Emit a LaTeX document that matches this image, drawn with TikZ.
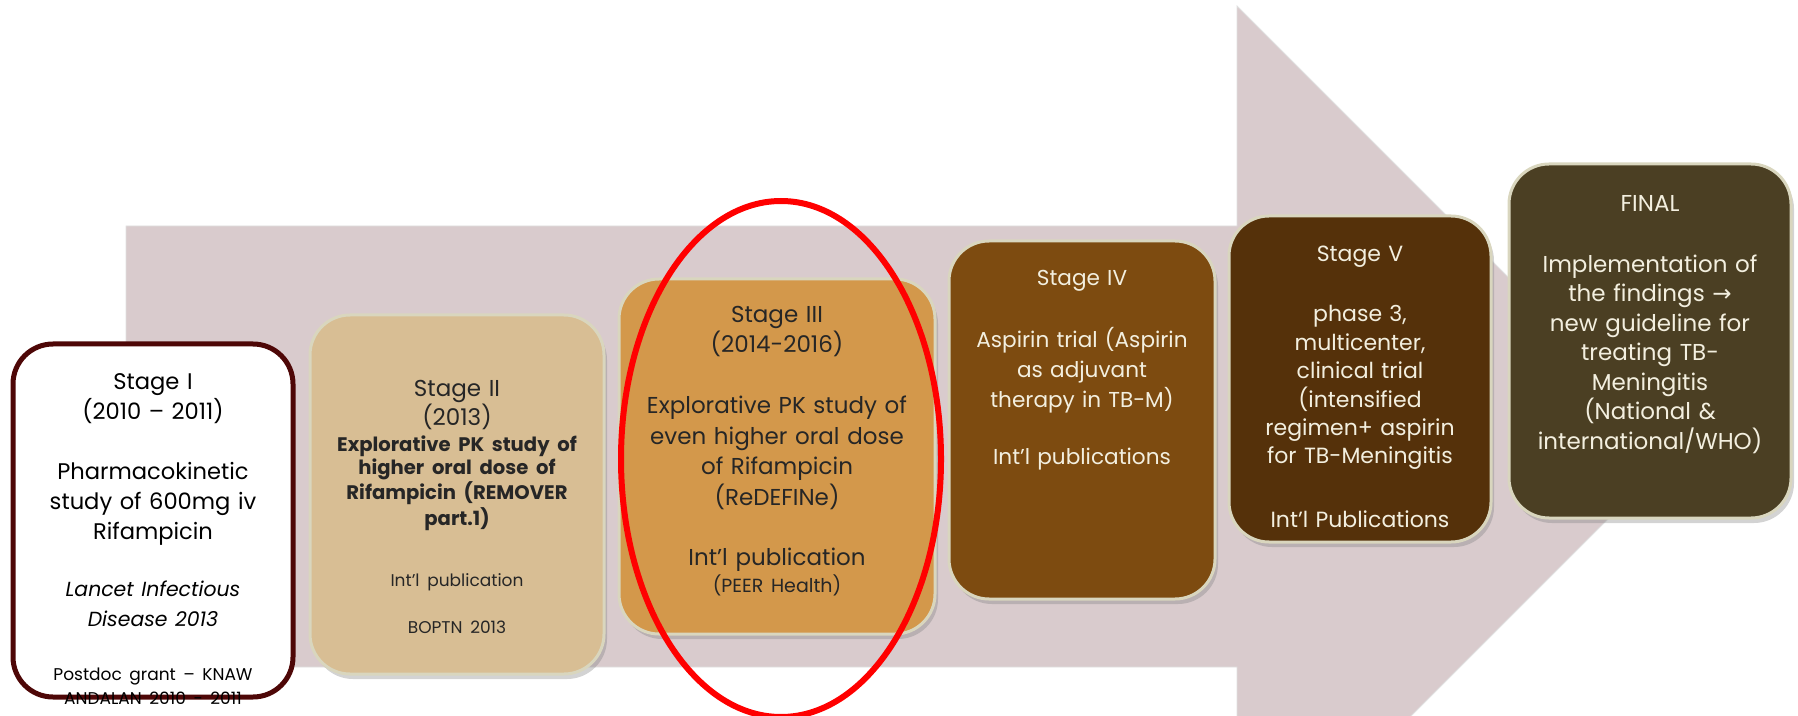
\documentclass[tikz,border=0pt]{standalone}
\usepackage{fontspec}
\setmainfont{Poppins}
\newfontfamily\arrowfont{DejaVu Sans}
\usetikzlibrary{positioning,shadows}
\definecolor{arrowpink}{HTML}{D9CBCD}
\definecolor{oneborder}{HTML}{4E0707}
\definecolor{twofill}{HTML}{D8BE94}
\definecolor{threefill}{HTML}{D3984B}
\definecolor{fourfill}{HTML}{7D4B10}
\definecolor{fivefill}{HTML}{55310A}
\definecolor{finalfill}{HTML}{4B3F23}
\definecolor{rimcol}{HTML}{D9D6BE}
\definecolor{creamtext}{HTML}{F3EFDF}
\tikzset{%
  stagebox/.style={rounded corners=20pt, inner sep=0pt, draw=rimcol, line width=1.5pt,
    drop shadow={opacity=0.35, shadow xshift=1.5pt, shadow yshift=-2.5pt}},
  stagetext/.style={align=center, inner sep=0pt, font=\fontsize{11.5}{14.75}\selectfont},
}
\begin{document}
\begin{tikzpicture}[x=0.5pt,y=-0.5pt]
\clip (0,0) rectangle (1798,716);
% big arrow behind everything
\filldraw[draw=black!12, fill=arrowpink] (126,226) -- (1237,226) -- (1237,6) -- (1679,448)
  -- (1237,890) -- (1237,667) -- (126,667) -- cycle;
% the stage boxes
\node[draw=oneborder, line width=2.5pt, fill=white, rounded corners=20pt,
  minimum width=140pt, minimum height=176.5pt] (s1) at (153,520.5) {};
\node[stagebox, fill=twofill, minimum width=147pt, minimum height=179.5pt] (s2) at (457,494.5) {};
\node[stagebox, fill=threefill, minimum width=158pt, minimum height=177.5pt] (s3) at (777,456.5) {};
\node[stagebox, fill=fourfill, minimum width=133pt, minimum height=179pt] (s4) at (1082,420) {};
\node[stagebox, fill=fivefill, minimum width=131pt, minimum height=163pt] (s5) at (1360,379) {};
\node[stagebox, fill=finalfill, minimum width=141pt, minimum height=177pt] (s6) at (1650,341) {};
% texts
\node[stagetext, text width=136pt, font=\fontsize{11.3}{15}\selectfont, below=16pt of s1.north] (t1)
  {Stage I\\ (2010 – 2011)\\[15pt] Pharmacokinetic\\ study of 600mg iv\\ Rifampicin\\[13.5pt]
   {\itshape\fontsize{10.2}{15}\selectfont Lancet Infectious\\ Disease 2013\par}\vspace{15pt}
   {\fontsize{8.5}{12}\selectfont Postdoc grant – KNAW\\ ANDALAN 2010 - 2011\par}};
\node[stagetext, text width=142pt, text=black!85, below=33pt of s2.north] (t2)
  {Stage II\\ (2013)\par\vspace{1.5pt}
   {\bfseries\fontsize{9.8}{11.5}\selectfont Explorative PK study of\\ higher oral dose of\\
    Rifampicin (REMOVER\\ part.1)\par}\vspace{19.5pt}
   {\fontsize{8.5}{11}\selectfont Int'l publication\\[12.5pt] BOPTN 2013\par}};
\node[stagetext, text width=152pt, text=black!85, font=\fontsize{11.5}{15.3}\selectfont,
  below=14pt of s3.north] (t3)
  {Stage III\\ (2014-2016)\\[15.2pt] Explorative PK study of\\ even higher oral dose\\
   of Rifampicin\\ (ReDEFINe)\\[14.5pt] Int'l publication\par
   {\fontsize{9.5}{13.8}\selectfont (PEER Health)\par}};
\node[stagetext, text width=128pt, text=creamtext, font=\fontsize{10.8}{15}\selectfont,
  below=15pt of s4.north] (t4)
  {Stage IV\\[16pt] Aspirin trial (Aspirin\\ as adjuvant\\ therapy in TB-M)\\[13.7pt] Int'l publications};
\node[stagetext, text width=126pt, text=creamtext, font=\fontsize{11}{14.2}\selectfont,
  below=15.5pt of s5.north] (t5)
  {Stage V\\[16pt] phase 3,\\ multicenter,\\ clinical trial\\ (intensified\\ regimen+ aspirin\\
   for TB-Meningitis\\[17.5pt] Int’l Publications};
\node[stagetext, text width=136pt, text=creamtext, below=16.5pt of s6.north] (t6)
  {FINAL\\[15.5pt] Implementation of\\ the findings {\arrowfont →}\\ new guideline for\\ treating TB-\\
   Meningitis\\ (National \&\\ international/WHO)};
% highlight of the current stage
\draw[red, line width=3pt] (781,459) ellipse (160 and 258);
\end{tikzpicture}
\end{document}
